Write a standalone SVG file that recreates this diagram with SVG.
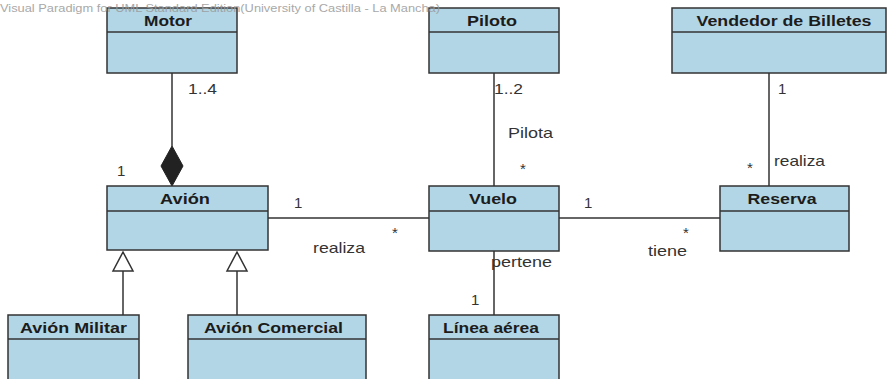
<svg xmlns="http://www.w3.org/2000/svg" width="887" height="379" viewBox="0 0 887 379">
<style>
.box{fill:#b2d6e5;stroke:#333;stroke-width:1.5}
.sep{stroke:#333;stroke-width:1.5}
.title{font-family:"Liberation Sans",Arial,sans-serif;font-weight:bold;font-size:15.5px;fill:#1c1c1c;text-anchor:middle}
.lbl{font-family:"Liberation Sans",Arial,sans-serif;font-size:15px;fill:#333}
.wm{font-family:"Liberation Sans",Arial,sans-serif;font-size:11px;fill:#9a9a9a}
.conn{stroke:#333;stroke-width:1.5;fill:none}
</style>
<rect width="887" height="379" fill="#fff"/>
<g id="connectors">
<line class="conn" x1="172" y1="73" x2="172" y2="146"/>
<polygon points="172,146 183,166 172,186 161,166" fill="#222" stroke="#222" stroke-width="1"/>
<line class="conn" x1="268" y1="218" x2="429" y2="218"/>
<line class="conn" x1="559" y1="218" x2="720" y2="218"/>
<line class="conn" x1="494" y1="73" x2="494" y2="186"/>
<line class="conn" x1="494" y1="251" x2="494" y2="315"/>
<line class="conn" x1="769" y1="73" x2="769" y2="186"/>
<line class="conn" x1="123" y1="271" x2="123" y2="315"/>
<polygon class="conn" points="123,252 133,271 113,271" fill="#fff"/>
<line class="conn" x1="237" y1="271" x2="237" y2="315"/>
<polygon class="conn" points="237,252 247,271 227,271" fill="#fff"/>
<text class="lbl" x="188" y="94" textLength="29" lengthAdjust="spacingAndGlyphs">1..4</text>
<text class="lbl" x="117" y="176">1</text>
<text class="lbl" x="294" y="208">1</text>
<text class="lbl" x="392" y="238">*</text>
<text class="lbl" x="313" y="253" textLength="52" lengthAdjust="spacingAndGlyphs">realiza</text>
<text class="lbl" x="494" y="94" textLength="29" lengthAdjust="spacingAndGlyphs">1..2</text>
<text class="lbl" x="508" y="138" textLength="45" lengthAdjust="spacingAndGlyphs">Pilota</text>
<text class="lbl" x="520" y="174">*</text>
<text class="lbl" x="491" y="267" textLength="61" lengthAdjust="spacingAndGlyphs">pertene</text>
<text class="lbl" x="471" y="305">1</text>
<text class="lbl" x="584" y="208">1</text>
<text class="lbl" x="683" y="238">*</text>
<text class="lbl" x="648" y="256" textLength="39" lengthAdjust="spacingAndGlyphs">tiene</text>
<text class="lbl" x="778" y="94">1</text>
<text class="lbl" x="747" y="173">*</text>
<text class="lbl" x="774" y="166" textLength="51" lengthAdjust="spacingAndGlyphs">realiza</text>
</g>
<g id="motor">
<rect class="box" x="107" y="8" width="130" height="65"/>
<line class="sep" x1="107" y1="32" x2="237" y2="32"/>
<text class="title" x="168" y="26" textLength="48" lengthAdjust="spacingAndGlyphs">Motor</text>
</g>
<g id="piloto">
<rect class="box" x="429" y="8" width="130" height="65"/>
<line class="sep" x1="429" y1="32" x2="559" y2="32"/>
<text class="title" x="492" y="26" textLength="50" lengthAdjust="spacingAndGlyphs">Piloto</text>
</g>
<g id="vendedor">
<rect class="box" x="672" y="8" width="214" height="65"/>
<line class="sep" x1="672" y1="32" x2="886" y2="32"/>
<text class="title" x="784" y="26" textLength="175" lengthAdjust="spacingAndGlyphs">Vendedor de Billetes</text>
</g>
<g id="avion">
<rect class="box" x="107" y="186" width="161" height="64"/>
<line class="sep" x1="107" y1="211" x2="268" y2="211"/>
<text class="title" x="185" y="204" textLength="50" lengthAdjust="spacingAndGlyphs">Avión</text>
</g>
<g id="vuelo">
<rect class="box" x="429" y="186" width="130" height="65"/>
<line class="sep" x1="429" y1="211" x2="559" y2="211"/>
<text class="title" x="493" y="204" textLength="48" lengthAdjust="spacingAndGlyphs">Vuelo</text>
</g>
<g id="reserva">
<rect class="box" x="720" y="186" width="129" height="65"/>
<line class="sep" x1="720" y1="211" x2="849" y2="211"/>
<text class="title" x="782" y="204" textLength="69" lengthAdjust="spacingAndGlyphs">Reserva</text>
</g>
<g id="avion-militar">
<rect class="box" x="8" y="315" width="131" height="70"/>
<line class="sep" x1="8" y1="339" x2="139" y2="339"/>
<text class="title" x="73.5" y="333" textLength="107" lengthAdjust="spacingAndGlyphs">Avión Militar</text>
</g>
<g id="avion-comercial">
<rect class="box" x="188" y="315" width="178" height="70"/>
<line class="sep" x1="188" y1="339" x2="366" y2="339"/>
<text class="title" x="273.5" y="333" textLength="139" lengthAdjust="spacingAndGlyphs">Avión Comercial</text>
</g>
<g id="linea-aerea">
<rect class="box" x="429" y="315" width="130" height="70"/>
<line class="sep" x1="429" y1="339" x2="559" y2="339"/>
<text class="title" x="491" y="333" textLength="96" lengthAdjust="spacingAndGlyphs">Línea aérea</text>
</g>
<text class="wm" x="0" y="11.5" textLength="440" lengthAdjust="spacingAndGlyphs" opacity="0.85">Visual Paradigm for UML Standard Edition(University of Castilla - La Mancha)</text>
</svg>
